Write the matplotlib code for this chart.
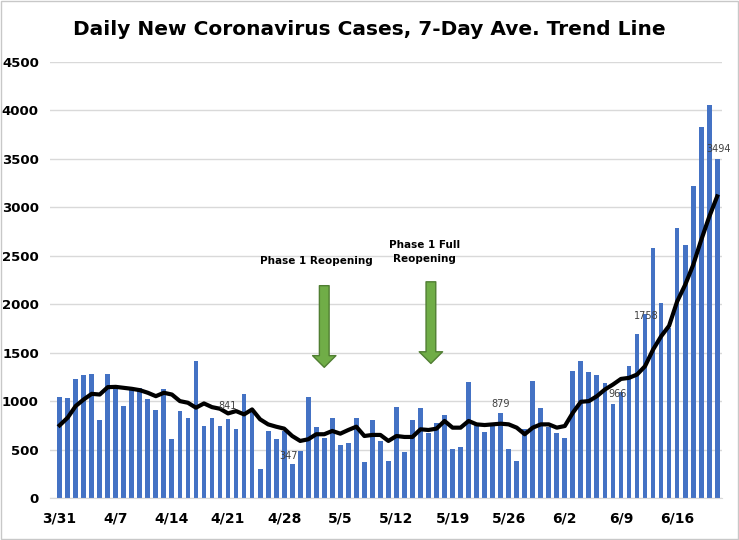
import matplotlib
matplotlib.use("Agg")
import matplotlib.pyplot as plt
import numpy as np

cases = [1038,1027,1233,1267,1277,805,1277,1137,949,1113,1140,1017,908,1120,606,897,825,1411,740,825,740,812,709,1072,887,298,688,606,
         688,347,486,1038,729,623,822,545,566,822,370,801,593,380,935,473,801,925,668,771,853,503,524,1202,750,678,740,879,503,380,
         709,1212,925,733,668,616,1315,1418,1305,1274,1182,966,1099,1366,1695,1900,2579,2014,1758,2784,2613,3216,3832,4058,3494]
trend = [750,829,949,1017,1075,1068,1144,1147,1137,1127,1113,1086,1051,1086,1068,1000,983,932,976,938,921,873,897,863,914,812,760,736,
         716,640,589,606,658,658,692,664,702,736,640,651,651,589,640,630,630,709,702,716,795,726,726,795,760,753,760,767,760,726,
         658,726,760,760,726,743,880,993,1000,1051,1120,1171,1229,1240,1274,1360,1531,1668,1777,2027,2199,2404,2661,2901,3113]
tick_labels = ["3/31","4/7","4/14","4/21","4/28","5/5","5/12","5/19","5/26","6/2","6/9","6/16"]
labeled = {21:"841",29:"347",55:"879",69:"966",76:"1758",82:"3494"}
label_pos = {21:(21,900),29:(28.6,380),55:(55,920),69:(69.6,1020),76:(73.2,1830),82:(82.2,3550)}

fig = plt.figure(figsize=(7.39,5.4), dpi=100)
fig.patches.append(plt.Rectangle((0.002,0.002),0.996,0.996,transform=fig.transFigure,fill=False,ec="#c8c8c8",lw=1))
ax = fig.add_axes([50/739, 42/540, 672/739, 436/540])
x = np.arange(len(cases))
ax.bar(x, cases, width=0.6, color="#4472c4", zorder=2)
ax.plot(x, trend, color="black", lw=3, zorder=3)
ax.set_xlim(-1.2, 82.6)
ax.set_ylim(0, 4500)
ax.set_yticks(range(0,4501,500))
ax.set_xticks(range(0, len(cases), 7))
ax.set_xticklabels(tick_labels, fontweight="bold", fontsize=10)
for t in ax.get_yticklabels():
    t.set_fontweight("bold"); t.set_fontsize(9.5)
ax.grid(axis="y", color="#d9d9d9", lw=1, zorder=0)
for s in ["top","right","left"]:
    ax.spines[s].set_visible(False)
ax.spines["bottom"].set_color("#d9d9d9")
ax.tick_params(axis="x", length=0, pad=10)
ax.tick_params(axis="y", length=0, pad=8)
for i, lab in labeled.items():
    px, py = label_pos[i]
    ax.text(px, py, lab, ha="center", va="bottom", fontsize=7, color="#404040", zorder=4)
fig.text(0.5, 0.945, "Daily New Coronavirus Cases, 7-Day Ave. Trend Line", ha="center", va="center",
         fontsize=14.5, fontweight="bold")
ax.text(32, 2450, "Phase 1 Reopening", ha="center", va="center", fontsize=7.5, fontweight="bold")
ax.text(45.5, 2540, "Phase 1 Full\nReopening", ha="center", va="center", fontsize=7.5, fontweight="bold", linespacing=1.6)
arrow = dict(arrowstyle="simple,head_width=1.2,head_length=0.6,tail_width=0.5", mutation_scale=14,
             fc="#70ad47", ec="#507e32", lw=1)
ax.annotate("", xy=(33, 1320), xytext=(33, 2220), arrowprops=arrow, zorder=5)
ax.annotate("", xy=(46.3, 1360), xytext=(46.3, 2260), arrowprops=arrow, zorder=5)
fig.savefig("out.png")
